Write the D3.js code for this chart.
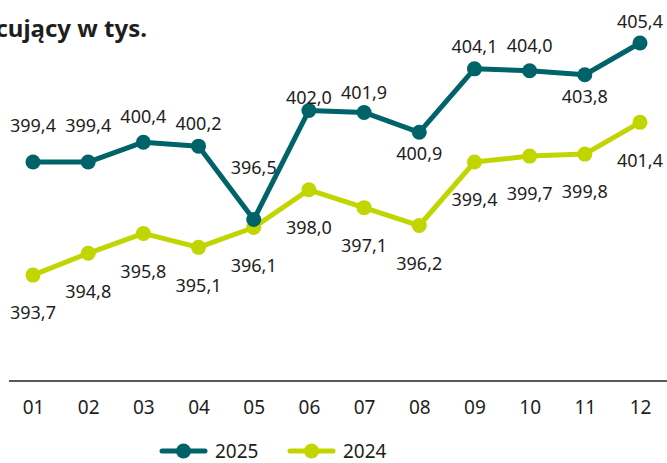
<!DOCTYPE html>
<html>
<head>
<meta charset="utf-8">
<script src="https://cdn.jsdelivr.net/npm/d3@7"></script>
<style>
  body { margin: 0; background: #fff; }
  svg { display: block; font-family: "Noto Sans", sans-serif; }
</style>
</head>
<body>
<div id="chart"></div>
<script>
'use strict';

var months = ['01', '02', '03', '04', '05', '06', '07', '08', '09', '10', '11', '12'];
var values2025 = [399.4, 399.4, 400.4, 400.2, 396.5, 402.0, 401.9, 400.9, 404.1, 404.0, 403.8, 405.4];
var values2024 = [393.7, 394.8, 395.8, 395.1, 396.1, 398.0, 397.1, 396.2, 399.4, 399.7, 399.8, 401.4];
var seriesNames = ['2025', '2024'];

// label offsets (px from point) - layout, not data
var dy2025 = [-36, -36, -26, -22, -52, -13, -20, 21, -22, -25, 22, -21];
var dy2024 = 38;

var w = 667, h = 463;
var colors = { '2025': '#00636a', '2024': '#c1d500' };

var svg = d3.select('#chart').append('svg')
    .attr('width', w)
    .attr('height', h);

var x = d3.scalePoint()
    .domain(months)
    .range([33, 640]);

var y = d3.scaleLinear()
    .domain([388.36, 407.57])
    .range([381, 0]);

var fmt = function (v) { return v.toFixed(1).replace('.', ','); };

// title (cut off on the left in the original)
svg.append('text')
    .attr('x', 147)
    .attr('y', 37)
    .attr('text-anchor', 'end')
    .style('font-size', '24px')
    .style('font-weight', 'bold')
    .style('fill', '#1e1e1e')
    .text('Pracujący w tys.');

// x axis
svg.append('line')
    .attr('x1', 9).attr('x2', w)
    .attr('y1', 381).attr('y2', 381)
    .style('stroke', '#222')
    .style('stroke-width', 1.5);

var axis = svg.append('g')
    .attr('transform', 'translate(0,381)')
    .call(d3.axisBottom(x).tickSize(0).tickPadding(20));
axis.select('.domain').remove();
axis.selectAll('text')
    .style('font-family', '"Noto Sans", sans-serif')
    .style('font-size', '19px')
    .style('fill', '#1e1e1e');

var line = d3.line()
    .x(function (d, i) { return x(months[i]); })
    .y(function (d) { return y(d); });

function drawSeries(values, color, dyFn) {
  var g = svg.append('g');
  g.append('path')
      .datum(values)
      .attr('d', line)
      .style('fill', 'none')
      .style('stroke', color)
      .style('stroke-width', 5)
      .style('stroke-linejoin', 'round');
  g.selectAll('circle')
      .data(values)
    .enter().append('circle')
      .attr('cx', function (d, i) { return x(months[i]); })
      .attr('cy', function (d) { return y(d); })
      .attr('r', 7.5)
      .style('fill', color);
  g.selectAll('text')
      .data(values)
    .enter().append('text')
      .attr('x', function (d, i) { return x(months[i]); })
      .attr('y', function (d, i) { return y(d) + dyFn(i); })
      .attr('dy', '0.35em')
      .attr('text-anchor', 'middle')
      .style('font-size', '18px')
      .style('fill', '#1e1e1e')
      .text(fmt);
}

drawSeries(values2024, colors['2024'], function () { return dy2024; });
drawSeries(values2025, colors['2025'], function (i) { return dy2025[i]; });

// legend
var legend = svg.append('g')
    .attr('transform', 'translate(162,451)');
var items = legend.selectAll('g')
    .data(seriesNames)
  .enter().append('g')
    .attr('transform', function (d, i) { return 'translate(' + (i * 128) + ',0)'; });
items.append('line')
    .attr('x1', 0).attr('x2', 43)
    .style('stroke', function (d) { return colors[d]; })
    .style('stroke-width', 5)
    .style('stroke-linecap', 'round');
items.append('circle')
    .attr('cx', 21.5)
    .attr('r', 7.5)
    .style('fill', function (d) { return colors[d]; });
items.append('text')
    .attr('x', 53)
    .attr('dy', '0.35em')
    .style('font-size', '19px')
    .style('fill', '#1e1e1e')
    .text(function (d) { return d; });
</script>
</body>
</html>
